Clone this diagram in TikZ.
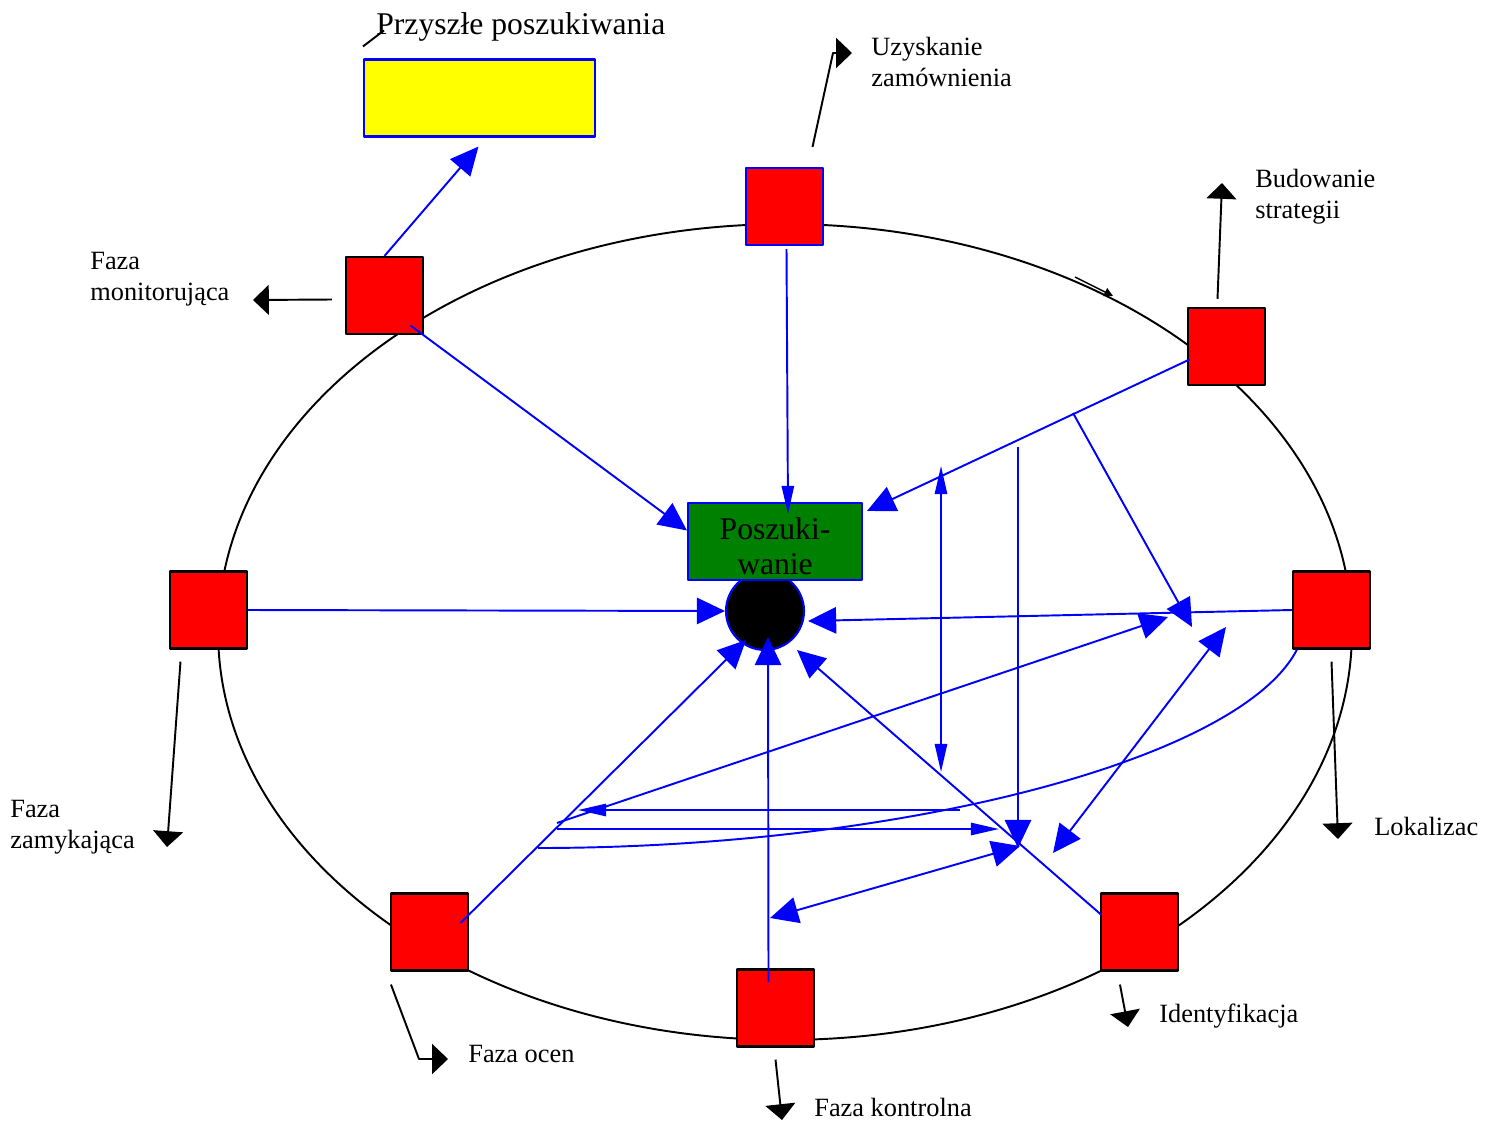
\documentclass[tikz,border=0pt]{standalone}
\usepackage{fontspec}
\setmainfont{Liberation Serif}
\usetikzlibrary{arrows.meta,calc}
\definecolor{zielony}{RGB}{0,128,0}
\definecolor{zolty}{RGB}{255,255,0}

\tikzset{
  faza/.style={draw=black,fill=red,line width=1.2pt,minimum size=1.54cm,inner sep=0},
  opis/.style={anchor=base west,inner sep=0,align=left,font=\fontsize{15}{17.6}\selectfont},
  pol/.style={blue,line width=1.1pt},
  waska/.style={>={Triangle[length=16pt,width=7pt]}},
  wsk/.style={black,line width=1.1pt,>={Triangle[length=9pt,width=17pt]}}
}

\begin{document}
\begin{tikzpicture}[x=0.02cm,y=-0.02cm,>={Triangle[length=16pt,width=15pt]},line join=round]
\useasboundingbox (0,0) rectangle (1490,1122);
% cykl
\draw[line width=1.1pt] (785,632) ellipse [x radius=11.34cm,y radius=8.16cm];
\draw[line width=0.8pt,->,>={Triangle[length=5pt,width=5pt]}] (1075,277)--(1113,296);

% fazy
\node[faza] (sMon) at (384.5,295.5) {};
\node[faza,draw=blue] (sUz) at (784.5,206.5) {};
\node[faza] (sBud) at (1226.5,346.5) {};
\node[faza] (sLok) at (1331.5,610) {};
\node[faza] (sId) at (1139.5,932) {};
\node[faza] (sKon) at (775.5,1008) {};
\node[faza] (sOce) at (429.5,932) {};
\node[faza] (sZam) at (208.5,610) {};

\node[fill=zolty,draw=blue,line width=1.2pt,minimum width=4.62cm,minimum height=1.54cm] (fut) at (479.5,98) {};
\node[circle,fill=black,draw=blue,line width=1.2pt,minimum size=1.56cm] (kolo) at (765,611) {};
\node[fill=zielony,draw=blue,line width=1.2pt,minimum width=3.48cm,minimum height=1.54cm] (szuk) at (775,541.5) {};
\node[inner sep=0,align=center,font=\fontsize{18}{19.84}\selectfont] (szukTxt) at (775,546) {Poszuki-\\wanie};

% punkty swobodne
\coordinate (j1) at (941,466);
\coordinate (j2) at (941,772);
\coordinate (k1) at (1018,447);
\coordinate (k2) at (1018,848);
\coordinate (l1) at (1073,413);
\coordinate (l2) at (1192,627);
\coordinate (m1) at (1226,627);
\coordinate (m2) at (1053,853);
\coordinate (n1) at (770,918);
\coordinate (n2) at (1020,846);
\coordinate (o1) at (960,810);
\coordinate (o2) at (578,810);
\coordinate (p1) at (557,829);
\coordinate (p2) at (999,829);
\coordinate (q1) at (557,823);
\coordinate (q2) at (1168,617);
\coordinate (r2) at (538,848);

% powiazania
\draw[pol,->] (sMon.north) -- ($(fut.south)+(-1,9)$);
\draw[pol,->] ($(sMon)+(26,30)$) -- ($(szuk.west)+(0,-11)$);
\draw[pol,waska,->] ($(sUz.south)+(2,3)$) -- ($(szuk.north)+(13,12)$);
\draw[pol,->] ($(sBud)+(-37,13)$) -- ($(szuk.north east)+(4,9)$);
\draw[pol,->] (sZam.east) -- (kolo.west);
\draw[pol,->] (sLok.west) -- ($(kolo.east)+(3,10)$);
\draw[pol,->] ($(sId)+(-38,-17)$) -- ($(kolo)+(32,39)$);
\draw[pol,->] ($(sKon)+(-7,-26)$) -- ($(kolo)+(3,26)$);
\draw[pol,->] ($(sOce)+(31,-9)$) -- ($(kolo)+(-19,29)$);
\draw[pol,waska,<->] (j1) -- (j2);
\draw[pol,->] (k1) -- (k2);
\draw[pol,->] (l1) -- (l2);
\draw[pol,<->] (m1) -- (m2);
\draw[pol,<->] (n1) -- (n2);
\draw[pol,waska,->] (o1) -- (o2);
\draw[pol,waska,->] (p1) -- (p2);
\draw[pol,->] (q1) -- (q2);
\draw[pol] ($(sLok.south west)+(5,0)$) .. controls (1240,760) and (900,848) .. (r2);

% wskazniki opisow
\draw[wsk,->] ($(sUz.north)+(28,-20)$) -- (833,53) -- (852,53);
\draw[wsk,->] ($(sBud.north)+(-9,-8)$) -- (1222,183);
\draw[wsk,->] ($(sMon.west)+(-13,4)$) -- (253,300);
\draw[wsk,->] ($(sZam.south)+(-28,12)$) -- (167,847);
\draw[wsk,->] ($(sLok.south)+(0,12)$) -- (1338,839);
\draw[wsk,->] ($(sId.south west)+(20,13)$) -- (1128,1027);
\draw[wsk,->] ($(sOce.south west)+(1,13)$) -- (419,1059) -- (448,1059);
\draw[wsk,->] ($(sKon.south)+(0,12)$) -- (782,1120);
\draw[wsk] ($(fut.north west)+(0,-12)$) -- ++(21,-16);

% opisy
\node[anchor=base west,inner sep=0,font=\fontsize{18}{20}\selectfont] (lFut) at (376,35) {Przyszłe poszukiwania};
\node[opis,anchor=north west] (lUz) at (871,37) {Uzyskanie\\zamównienia};
\node[opis,anchor=north west] (lBud) at (1255,169) {Budowanie\\strategii};
\node[opis,anchor=north west] (lMon) at (90,252) {Faza\\monitorująca};
\node[opis,anchor=north west] (lZam) at (10,800) {Faza\\zamykająca};
\node[opis] (lLok) at (1374,835) {Lokalizac};
\node[opis] (lId) at (1159,1022) {Identyfikacja};
\node[opis] (lOce) at (468,1062) {Faza ocen};
\node[opis] (lKon) at (814,1116) {Faza kontrolna};
\end{tikzpicture}
\end{document}
